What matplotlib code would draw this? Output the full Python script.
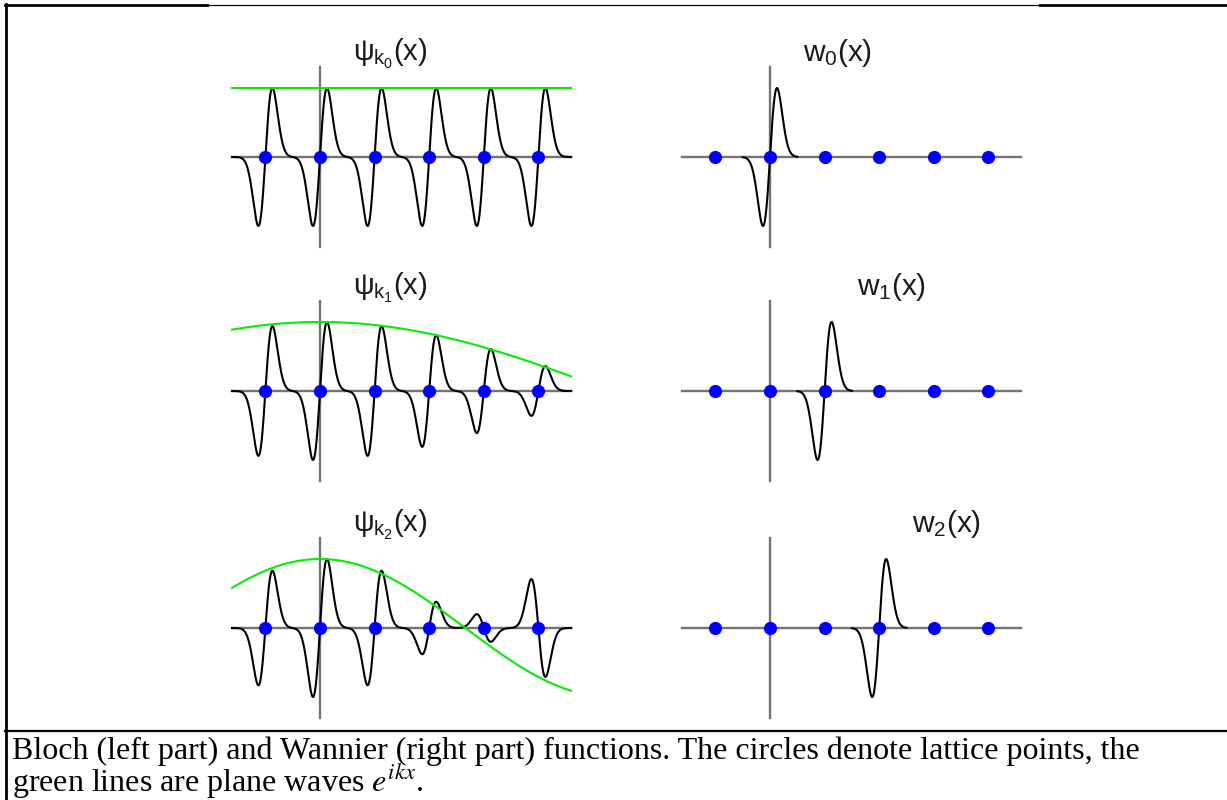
import numpy as np
import matplotlib
matplotlib.use("Agg")
import matplotlib.pyplot as plt

plt.rcParams['mathtext.fontset'] = 'custom'
plt.rcParams['mathtext.rm'] = 'Liberation Sans'
plt.rcParams['mathtext.it'] = 'Liberation Sans'
plt.rcParams['mathtext.bf'] = 'Liberation Sans:bold'

# ---------------- data ----------------
sites = [-1, 0, 1, 2, 3, 4]                      # lattice points (units of a)
bloch_amp_k0 = [1.00, 1.00, 1.00, 1.00, 1.00, 1.00]
bloch_amp_k1 = [0.94, 1.00, 0.94, 0.81, 0.61, 0.36]
bloch_amp_k2 = [0.83, 1.00, 0.83, 0.38, -0.20, -0.71]
wave_numbers = [0.0, 0.295, 0.59]                # k*a of the plane waves
wannier_centers = [0, 1, 2]
bloch_titles = [r'$\psi_{k_0}(x)$', r'$\psi_{k_1}(x)$', r'$\psi_{k_2}(x)$']
wannier_titles = [r'$w_0(x)$', r'$w_1(x)$', r'$w_2(x)$']
caption_line1 = "Bloch (left part) and Wannier (right part) functions. The circles denote lattice points, the"
caption_line2 = r"green lines are plane waves $e^{ikx}$."

# ---------------- layout ----------------
W, H = 1227, 800
fig = plt.figure(figsize=(W / 100, H / 100), dpi=100)
SX, SY = 54.6, 69.0            # px per lattice unit / per amplitude unit
XL, YL = (-1.7, 4.7), (-1.5, 1.5)
row_base_px = [157, 391, 628]
col_origin_px = [320, 770]
x_span = (-1.61, 4.6)
sigma = 0.128
GRAY = '#737373'
GREEN = '#08ea08'
BLUE = '#0000ff'


def lobe(t):
    return (t / sigma) * np.exp(0.5 - t ** 2 / (2 * sigma ** 2))


def panel(x0, yb):
    left = (x0 + XL[0] * SX) / W
    width = (XL[1] - XL[0]) * SX / W
    bottom = 1 - (yb + YL[1] * SY) / H
    height = (YL[1] - YL[0]) * SY / H
    ax = fig.add_axes([left, bottom, width, height])
    ax.set_xlim(*XL)
    ax.set_ylim(*YL)
    ax.axis('off')
    ax.plot(x_span, [0, 0], color=GRAY, lw=1.7, zorder=1)
    ax.plot([0, 0], [-1.3, 1.3], color=GRAY, lw=1.7, zorder=1)
    return ax


x = np.linspace(x_span[0], x_span[1], 3000)
bloch_amps = [bloch_amp_k0, bloch_amp_k1, bloch_amp_k2]

for r in range(3):
    yb = row_base_px[r]
    # Bloch functions
    ax = panel(col_origin_px[0], yb)
    y = np.zeros_like(x)
    for n, a in zip(sites, bloch_amps[r]):
        y += a * lobe(x - n)
    ax.plot(x, y, color='black', lw=1.5, zorder=2)
    ax.plot(x, np.cos(wave_numbers[r] * x), color=GREEN, lw=1.5, zorder=3)
    ax.plot(sites, np.zeros(len(sites)), 'o', color=BLUE, ms=9.5,
            mec='none', zorder=4)
    ax.text(0.6, 96 / SY, bloch_titles[r], fontsize=21, color='#1a1a1a',
            ha='left', va='baseline', math_fontfamily='custom', clip_on=False)

    # Wannier functions
    ax = panel(col_origin_px[1], yb)
    c = wannier_centers[r]
    xw = np.linspace(c - 0.5, c + 0.5, 800)
    ax.plot(xw, lobe(xw - c), color='black', lw=1.5, zorder=2)
    ax.plot(sites, np.zeros(len(sites)), 'o', color=BLUE, ms=9.5,
            mec='none', zorder=4)
    ax.text(c + 0.6, 96 / SY, wannier_titles[r], fontsize=21.5, color='#1a1a1a',
            ha='left', va='baseline', math_fontfamily='custom', clip_on=False)

# ---------------- frame and caption ----------------
bg = fig.add_axes([0, 0, 1, 1], zorder=-1)
bg.set_xlim(0, W)
bg.set_ylim(H, 0)
bg.axis('off')
bg.plot([6, 6], [4, H], color='black', lw=2.0)
bg.plot([5, 207], [5, 5], color='black', lw=2.0)
bg.plot([207, 1040], [5, 5], color='black', lw=0.9)
bg.plot([1040, W], [5, 5], color='black', lw=2.0)
bg.plot([5, W], [731, 731], color='black', lw=1.6)

bg.text(12, 737, caption_line1 + "\n" + caption_line2, fontsize=23,
        family='Liberation Serif', ha='left', va='top', color='black',
        linespacing=0.84, math_fontfamily='stix')

fig.savefig('out.png', dpi=100)
